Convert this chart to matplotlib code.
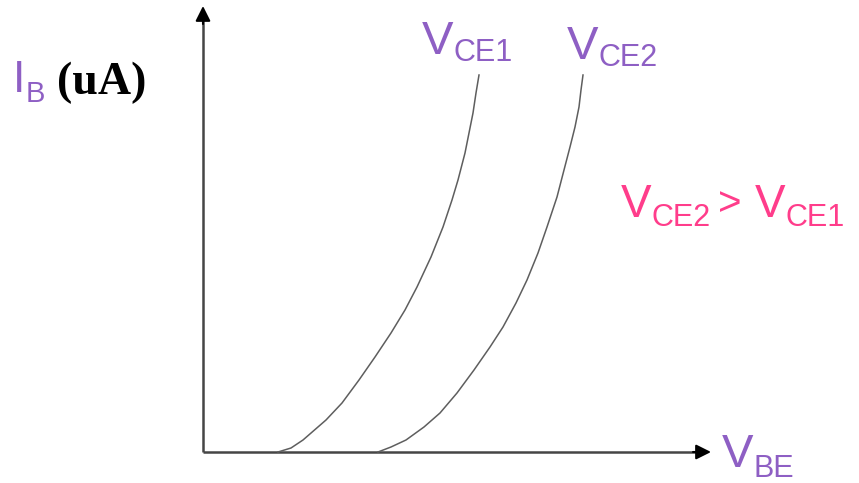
import matplotlib
matplotlib.use("Agg")
import matplotlib.pyplot as plt

# input characteristic of a transistor: I_B vs V_BE for two V_CE values
# (arbitrary units, origin at the axis corner)
vbe_1 = [75, 88, 100, 123, 139, 156, 172, 188, 202, 214, 228, 240, 249,
         255, 262, 266, 270, 273, 276]
ib_1 = [0, 4, 12, 32, 49, 72, 95, 119, 142, 165, 195, 225, 252,
        272, 299, 319, 339, 359, 377]
vbe_2 = [175, 188, 203, 221, 237, 254, 271, 287, 300, 313, 324, 335, 344,
         354, 361, 367, 372, 376, 378, 380]
ib_2 = [0, 5, 12, 25, 39, 59, 82, 105, 125, 149, 172, 199, 225,
        255, 282, 305, 325, 345, 362, 377]

PURPLE = '#8e5fc4'
PINK = '#ff3d8b'
AXIS = '#454545'
SANS = 'Liberation Sans'

fig = plt.figure(figsize=(8.59, 4.83), dpi=100)
ax = fig.add_axes([0, 0, 1, 1])
ax.set_xlim(-203, 656)
ax.set_ylim(-31, 452)
ax.axis('off')

# axes with arrows
ax.plot([0, 495], [0, 0], color=AXIS, lw=1.8, solid_capstyle='butt')
ax.plot([0, 0], [0, 432], color=AXIS, lw=1.8, solid_capstyle='butt')
ax.annotate('', xy=(508, 0), xytext=(490, 0),
            arrowprops=dict(arrowstyle='-|>,head_length=0.9,head_width=0.45',
                            color='black', lw=1.5, shrinkA=0, shrinkB=0))
ax.annotate('', xy=(0, 446), xytext=(0, 428),
            arrowprops=dict(arrowstyle='-|>,head_length=0.9,head_width=0.45',
                            color='black', lw=1.5, shrinkA=0, shrinkB=0))

# curves
ax.plot(vbe_1, ib_1, color='#5e5e5e', lw=1.1)
ax.plot(vbe_2, ib_2, color='#5e5e5e', lw=1.1)


def label(x, y, main, sub, color, dy=-7, size=34, subsize=22):
    t = ax.text(x, y, main, color=color, fontsize=size, family=SANS,
                va='baseline', ha='left')
    fig.canvas.draw()
    bb = t.get_window_extent()
    x_end = ax.transData.inverted().transform((bb.x1, bb.y0))[0]
    t2 = ax.text(x_end, y + dy, sub, color=color, fontsize=subsize,
                 family=SANS, va='baseline', ha='left')
    fig.canvas.draw()
    bb2 = t2.get_window_extent()
    return ax.transData.inverted().transform((bb2.x1, bb2.y0))[0]


# I_B (uA)
label(-190, 360, 'I', 'B', PURPLE, dy=-10, size=32, subsize=21)
ax.text(-146, 358, '(uA)', color='black', fontsize=33, fontweight='bold',
        family='Liberation Serif', va='baseline', ha='left')

# curve labels
label(219, 398, 'V', 'CE1', PURPLE)
label(364, 393, 'V', 'CE2', PURPLE)

# comparison
xe = label(418, 235, 'V', 'CE2', PINK, dy=-9, size=33, subsize=22)
ax.text(xe + 7, 237, '>', color=PINK, fontsize=29, family=SANS,
        va='baseline', ha='left')
label(xe + 44, 235, 'V', 'CE1', PINK, dy=-9, size=33, subsize=22)

# x label
label(519, -15, 'V', 'BE', PURPLE, dy=-10, size=34, subsize=22)

fig.savefig('out.png', dpi=100)
